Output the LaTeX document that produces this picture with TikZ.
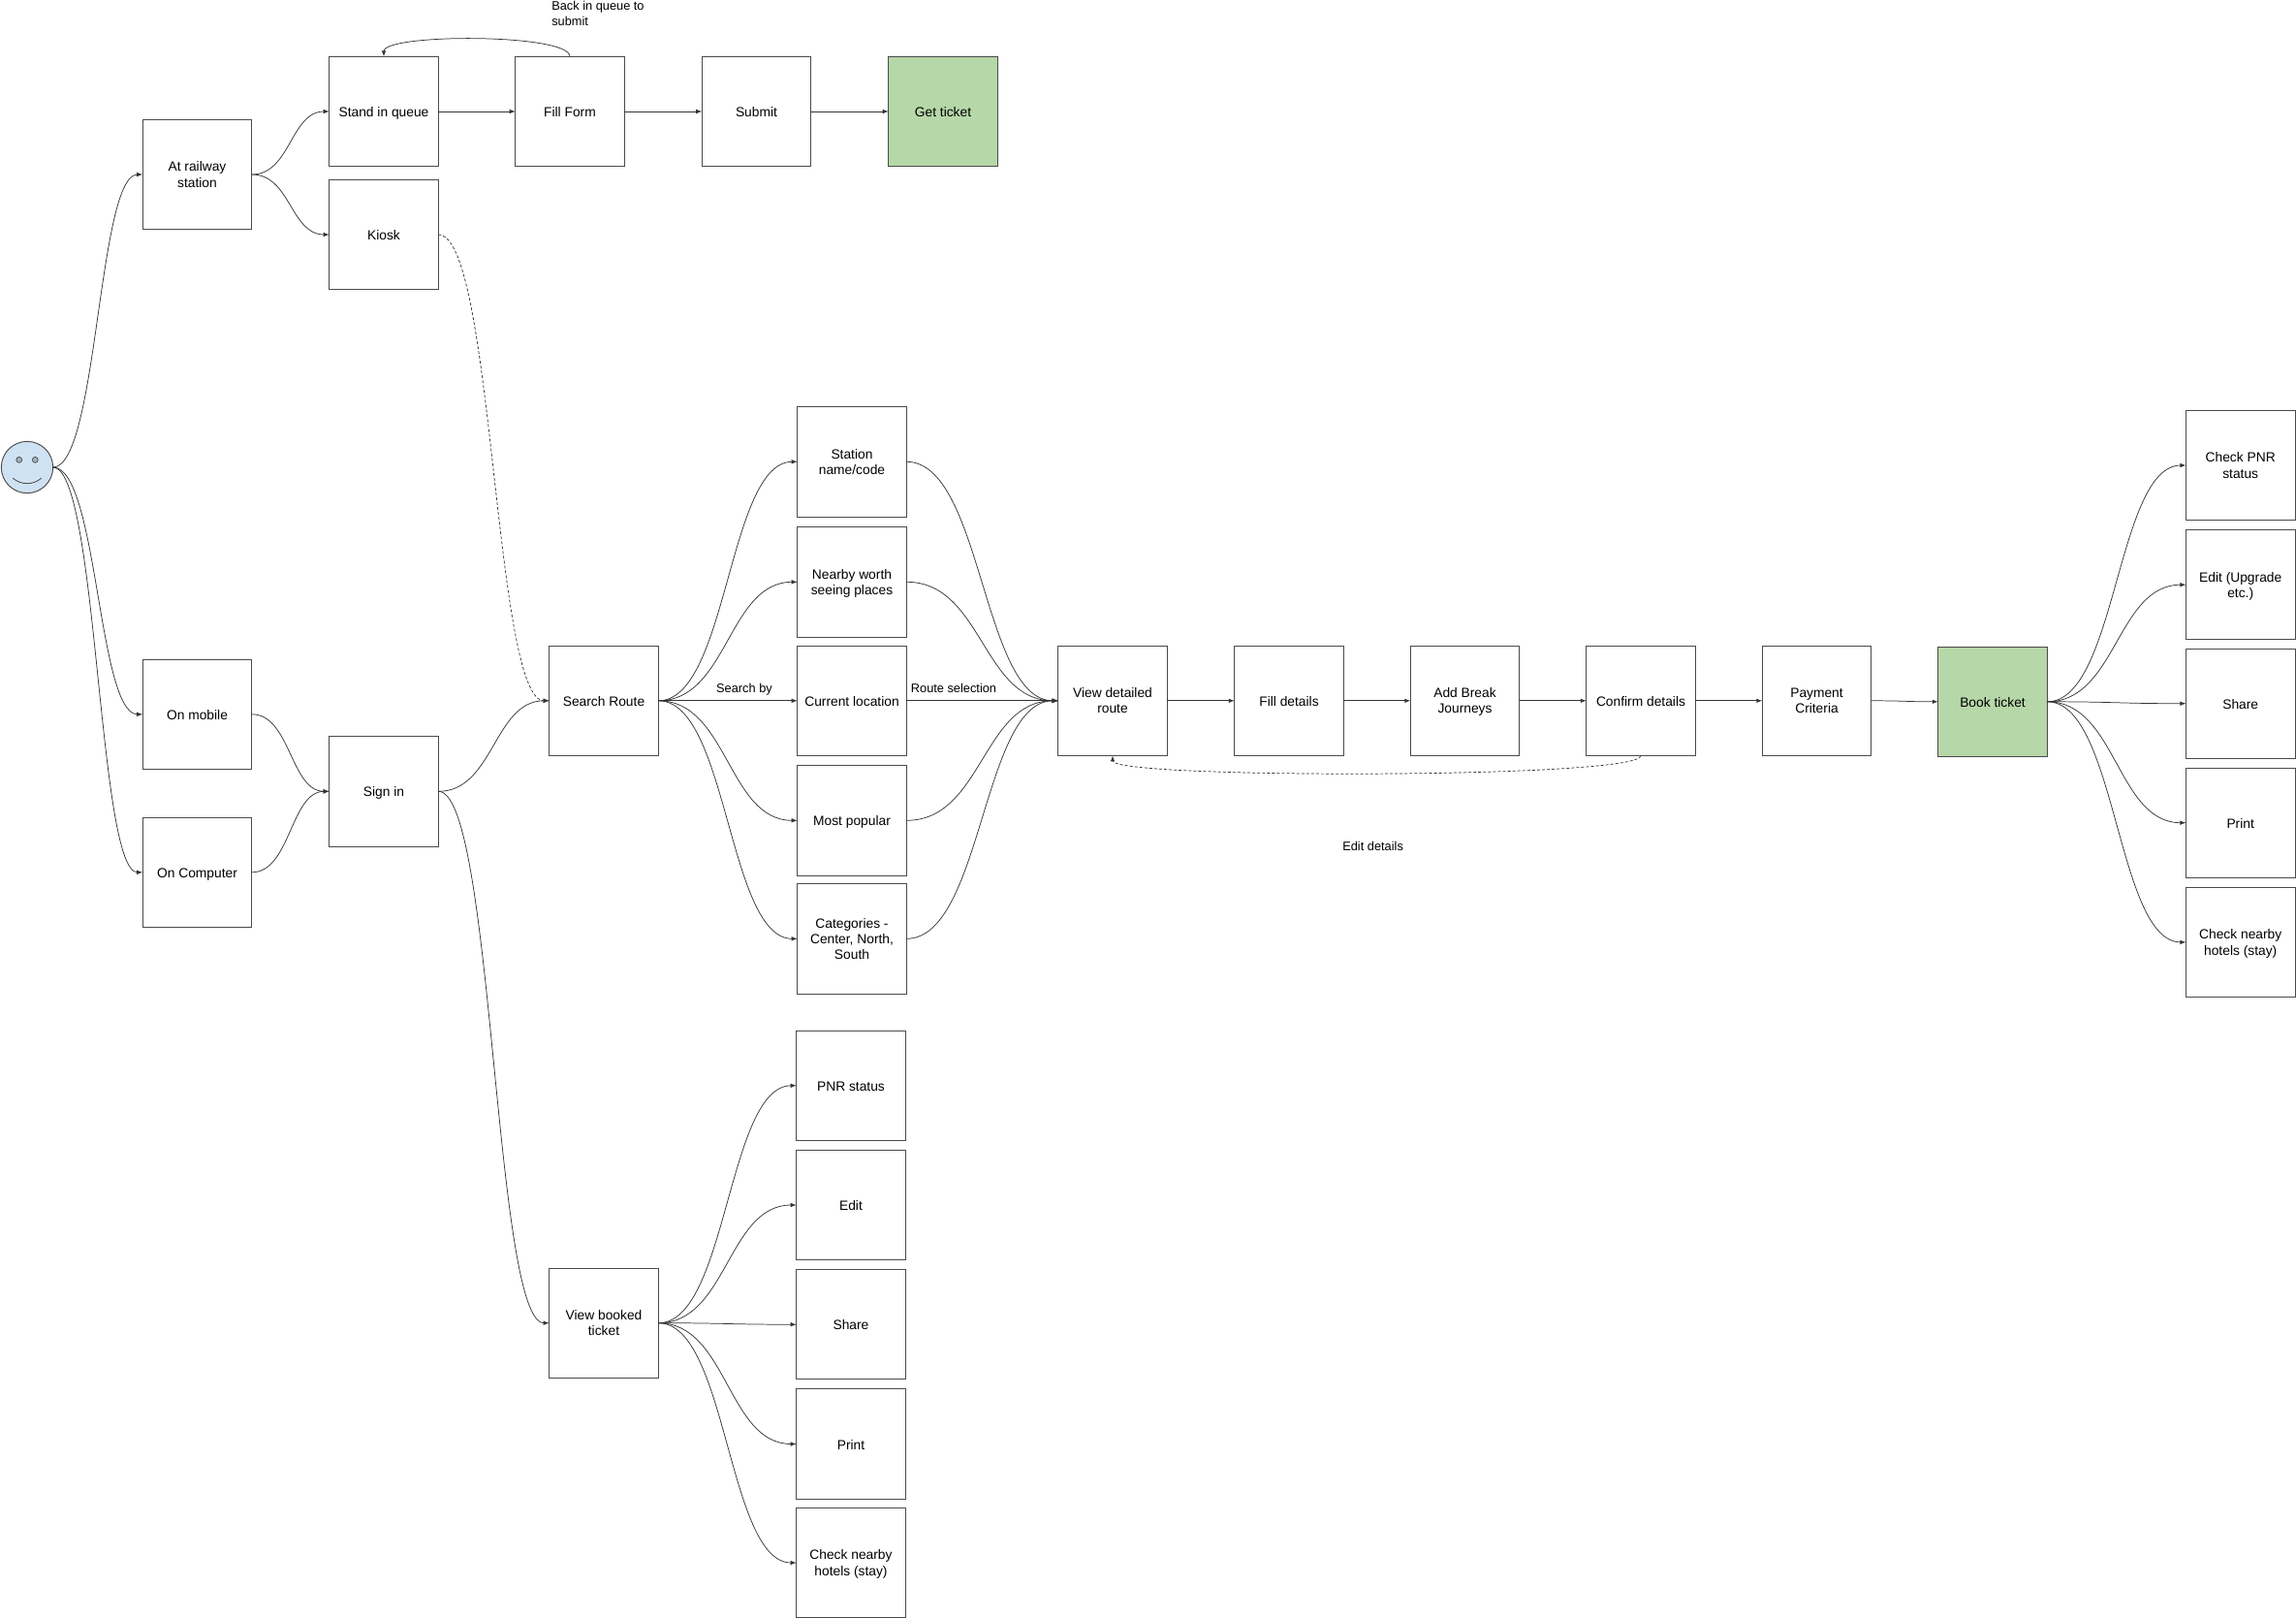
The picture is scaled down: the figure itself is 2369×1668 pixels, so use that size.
\documentclass[tikz,border=0pt]{standalone}
\usepackage{fontspec}
\setmainfont{Liberation Sans}
\usetikzlibrary{calc}
\definecolor{edgegray}{HTML}{333333}
\definecolor{boxgray}{HTML}{4A4A4A}
\definecolor{faceblue}{HTML}{CFE2F3}
\definecolor{eyegray}{HTML}{A3B3C1}
\definecolor{donegreen}{HTML}{B6D7A8}
\tikzset{
  boxnode/.style={draw=boxgray,line width=0.7pt,minimum width=84.5pt,minimum height=85pt,inner sep=0pt,outer sep=0pt,align=center,font=\fontsize{10.35}{12.2}\selectfont,
    execute at begin node={\rule{0pt}{11pt}},execute at end node={\rule[-2.5pt]{0pt}{0pt}}},
  wrapnode/.style={boxnode,text depth=-1.4pt},
  donenode/.style={boxnode,fill=donegreen},
  labelnode/.style={inner sep=0pt,align=left,font=\fontsize{9.6}{11.8}\selectfont},
  link/.style={draw=edgegray,line width=0.55pt,-latex},
  dashlink/.style={link,dash pattern=on 2.2pt off 1.6pt},
  curved/.style={to path={let \p1=(\tikztostart),\p2=(\tikztotarget),\n1={0.5*\x1+0.5*\x2} in (\p1) .. controls (\n1,\y1) and (\n1,\y2) .. (\p2)}}
}
\begin{document}
\begin{tikzpicture}[x=0.75pt,y=-0.75pt]
    \useasboundingbox (0,0) rectangle (2369,1668);
    %% user
    \node[circle,draw=boxgray,fill=faceblue,line width=0.7pt,minimum size=40pt,inner sep=0pt,outer sep=0pt] (user) at (28,482) {};
    \node[circle,draw=boxgray,fill=eyegray,line width=0.55pt,minimum size=4.4pt,inner sep=0pt] (lefteye) at (19.7,474.3) {};
    \node[circle,draw=boxgray,fill=eyegray,line width=0.55pt,minimum size=4.4pt,inner sep=0pt] (righteye) at (36.3,474.3) {};
    \draw[draw=boxgray,line width=0.6pt] (13.3,493.3) .. controls (22,500.5) and (34,500.5) .. (42.7,493.3);
    %% ways in
    \node[wrapnode] (station) at (203.5,180) {At railway\\station};
    \node[boxnode] (mobile) at (203.5,736.8) {On mobile};
    \node[boxnode] (computer) at (203.5,899.8) {On Computer};
    %% at the station
    \node[boxnode] (queue) at (396,115) {Stand in queue};
    \node[boxnode] (kiosk) at (396,242) {Kiosk};
    \node[boxnode] (form) at (588,115) {Fill Form};
    \node[boxnode] (submit) at (780.5,115) {Submit};
    \node[donenode] (getticket) at (973,115) {Get ticket};
    %% sign in
    \node[boxnode] (signin) at (396,816.3) {Sign in};
    \node[boxnode] (search) at (623,722.8) {Search Route};
    \node[wrapnode] (viewbooked) at (623,1364.7) {View booked\\ticket};
    %% search by
    \node[wrapnode] (code) at (879,476.3) {Station\\name/code};
    \node[wrapnode] (nearby) at (879,600.3) {Nearby worth\\seeing places};
    \node[boxnode] (current) at (879,722.8) {Current location};
    \node[boxnode] (popular) at (879,846.3) {Most popular};
    \node[wrapnode] (categories) at (879,968.3) {Categories -\\Center, North,\\South};
    %% booking row
    \node[wrapnode] (route) at (1148,722.8) {View detailed\\route};
    \node[boxnode] (details) at (1330,722.8) {Fill details};
    \node[wrapnode] (breaks) at (1511.5,722.8) {Add Break\\Journeys};
    \node[boxnode] (confirm) at (1693,722.8) {Confirm details};
    \node[wrapnode] (payment) at (1874.5,722.8) {Payment\\Criteria};
    \node[donenode] (book) at (2056,723.8) {Book ticket};
    %% after booking
    \node[wrapnode] (afterpnr) at (2311.7,480) {Check PNR\\status};
    \node[wrapnode] (afteredit) at (2311.7,603.2) {Edit (Upgrade\\etc.)};
    \node[boxnode] (aftershare) at (2311.7,725.7) {Share};
    \node[boxnode] (afterprint) at (2311.7,848.7) {Print};
    \node[wrapnode] (afterhotels) at (2311.7,971.9) {Check nearby\\hotels (stay)};
    %% booked ticket
    \node[boxnode] (pnr) at (878,1119.8) {PNR status};
    \node[boxnode] (edit) at (878,1243) {Edit};
    \node[boxnode] (share) at (878,1366.2) {Share};
    \node[boxnode] (print) at (878,1489.5) {Print};
    \node[wrapnode] (hotels) at (878,1612) {Check nearby\\hotels (stay)};
    %% labels
    \node[labelnode,anchor=west] (backlabel) at (569,14) {Back in queue to\\submit};
    \node[labelnode] (searchlabel) at (768,710.7) {Search by};
    \node[labelnode] (routelabel) at (984,710) {Route selection};
    \node[labelnode] (editlabel) at (1416.6,872.5) {Edit details};
    %% links from user
    \draw[link] (user.east) to[curved] (station.west);
    \draw[link] (user.east) to[curved] (mobile.west);
    \draw[link] (user.east) to[curved] (computer.west);
    \draw[link] (station.east) to[curved] (queue.west);
    \draw[link] (station.east) to[curved] (kiosk.west);
    \draw[link] (mobile.east) to[curved] (signin.west);
    \draw[link] (computer.east) to[curved] (signin.west);
    %% queue
    \draw[link] (queue) -- (form);
    \draw[link] (form) -- (submit);
    \draw[link] (submit) -- (getticket);
    \draw[link] (form.north) .. controls +(0,-24) and +(0,-24) .. (queue.north);
    \draw[dashlink] (kiosk.east) to[curved] (search.west);
    %% search fan
    \draw[link] (signin.east) to[curved] (search.west);
    \draw[link] (signin.east) to[curved] (viewbooked.west);
    \draw[link] (search.east) to[curved] (code.west);
    \draw[link] (search.east) to[curved] (nearby.west);
    \draw[link] (search) -- (current);
    \draw[link] (search.east) to[curved] (popular.west);
    \draw[link] (search.east) to[curved] (categories.west);
    \draw[link] (code.east) to[curved] (route.west);
    \draw[link] (nearby.east) to[curved] (route.west);
    \draw[link] (current) -- (route);
    \draw[link] (popular.east) to[curved] (route.west);
    \draw[link] (categories.east) to[curved] (route.west);
    %% booking row
    \draw[link] (route) -- (details);
    \draw[link] (details) -- (breaks);
    \draw[link] (breaks) -- (confirm);
    \draw[link] (confirm) -- (payment);
    \draw[link] (payment.east) to[curved] (book.west);
    \draw[dashlink] (confirm.south) .. controls +(0,24) and +(0,24) .. (route.south);
    %% after booking
    \draw[link] (book.east) to[curved] (afterpnr.west);
    \draw[link] (book.east) to[curved] (afteredit.west);
    \draw[link] (book.east) to[curved] (aftershare.west);
    \draw[link] (book.east) to[curved] (afterprint.west);
    \draw[link] (book.east) to[curved] (afterhotels.west);
    %% booked ticket
    \draw[link] (viewbooked.east) to[curved] (pnr.west);
    \draw[link] (viewbooked.east) to[curved] (edit.west);
    \draw[link] (viewbooked.east) to[curved] (share.west);
    \draw[link] (viewbooked.east) to[curved] (print.west);
    \draw[link] (viewbooked.east) to[curved] (hotels.west);
\end{tikzpicture}
\end{document}
